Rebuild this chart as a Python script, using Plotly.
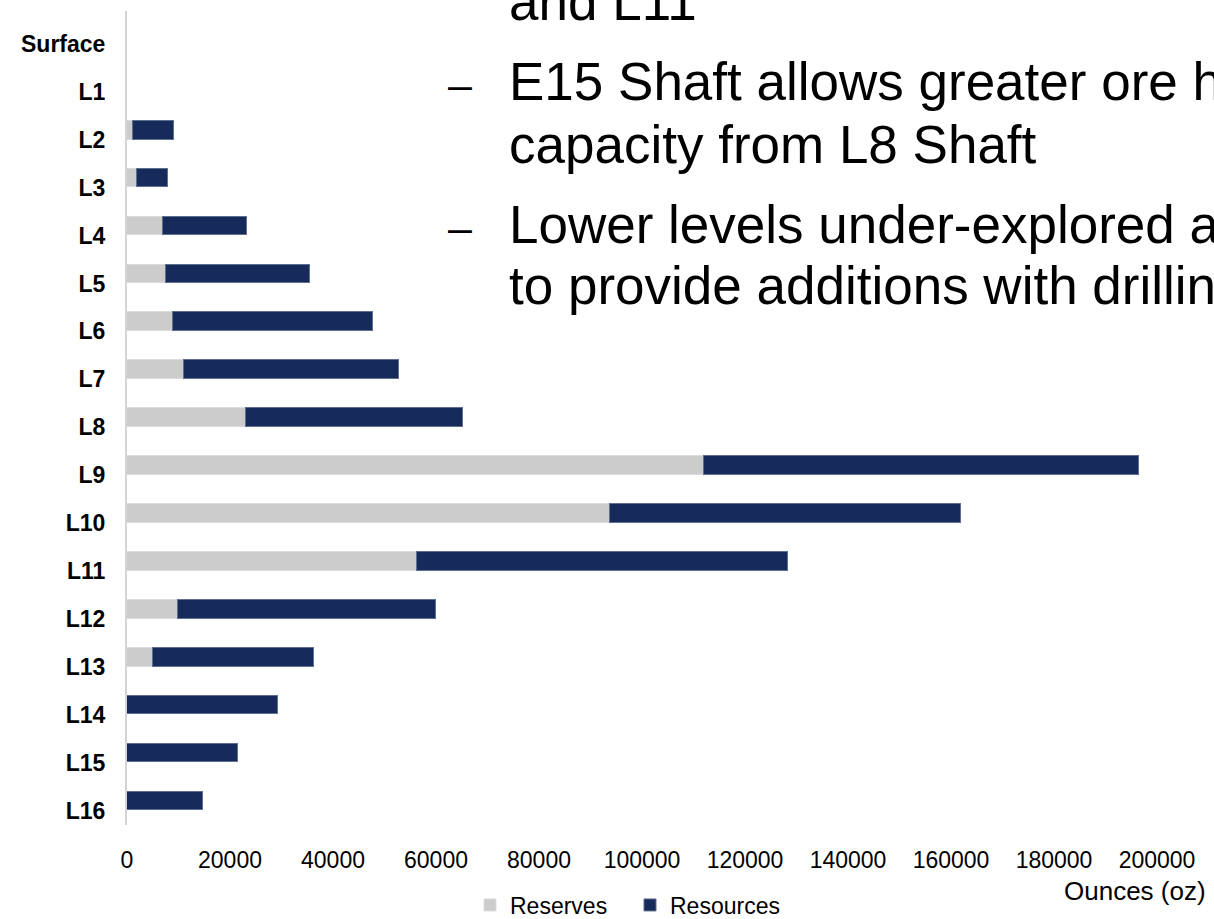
import plotly.graph_objects as go

levels = ["Surface", "L1", "L2", "L3", "L4", "L5", "L6", "L7", "L8",
          "L9", "L10", "L11", "L12", "L13", "L14", "L15", "L16"]
reserves = [0, 0, 1200, 2000, 7000, 7500, 9000, 11100, 23200,
            112000, 93700, 56300, 9900, 5100, 0, 0, 0]
resources = [0, 0, 8000, 5900, 16300, 28100, 38700, 41700, 42000,
             84500, 68300, 72100, 50100, 31300, 29300, 21600, 14800]
x_ticks = [0, 20000, 40000, 60000, 80000, 100000, 120000, 140000, 160000, 180000, 200000]

slide_lines = [
    ("and L11", 20),
    ("E15 Shaft allows greater ore h", 100),
    ("capacity from L8 Shaft", 163),
    ("Lower levels under-explored a", 243),
    ("to provide additions with drilling", 305),
]
dash_rows = [84, 228]

W, H = 1214, 919
L, R, T, B = 127, 57, 11, 92
PW, PH = W - L - R, H - T - B

def px_x(px):
    return (px - L) / PW

def px_y(py):
    return (H - B - py) / PH

FONT = "Arial, Liberation Sans, sans-serif"
GRAY = "#cccccc"
NAVY = "#172b5a"

fig = go.Figure()
fig.add_trace(go.Bar(
    y=levels, x=reserves, orientation="h", name="Reserves",
    marker=dict(color=GRAY, line=dict(color="#dcdcdc", width=1)),
    width=0.39, offset=-0.395,
))
fig.add_trace(go.Bar(
    y=levels, x=resources, orientation="h", name="Resources",
    marker=dict(color=NAVY, line=dict(color="#5f6f92", width=1)),
    width=0.39, offset=-0.395,
))

annotations = []
fs = 53
for text, base in slide_lines:
    annotations.append(dict(
        text=text, xref="paper", yref="paper",
        x=px_x(507), y=px_y(base - 0.3465 * fs),
        xanchor="left", yanchor="middle", showarrow=False,
        font=dict(family=FONT, size=fs, color="#000000"),
    ))
for yy in dash_rows:
    annotations.append(dict(
        text="\u2013", xref="paper", yref="paper",
        x=px_x(446), y=px_y(yy),
        xanchor="left", yanchor="middle", showarrow=False,
        font=dict(family=FONT, size=43, color="#000000"),
    ))
annotations.append(dict(
    text="Ounces (oz)", xref="paper", yref="paper",
    x=px_x(1208), y=px_y(893),
    xanchor="right", yanchor="middle", showarrow=False,
    font=dict(family=FONT, size=26, color="#000000"),
))

fig.update_layout(
    width=W, height=H,
    margin=dict(l=L, r=R, t=T, b=B, pad=0),
    barmode="stack",
    plot_bgcolor="white", paper_bgcolor="white",
    font=dict(family=FONT, color="#000000"),
    showlegend=True,
    legend=dict(
        orientation="h", xref="container", yref="container",
        x=470 / W, y=(H - 905) / H, xanchor="left", yanchor="middle",
        font=dict(family=FONT, size=23, color="#000000"),
        bgcolor="rgba(0,0,0,0)", itemclick=False, traceorder="normal",
        entrywidth=115, entrywidthmode="pixels",
    ),
    annotations=annotations,
    bargap=0,
)
fig.update_xaxes(
    range=[0, 200000], tickvals=x_ticks, ticktext=[str(v) for v in x_ticks],
    showgrid=False, zeroline=False, showline=False,
    ticks="outside", ticklen=14, tickcolor="rgba(0,0,0,0)",
    tickfont=dict(family=FONT, size=23, color="#000000"),
)
fig.update_yaxes(
    type="category", categoryorder="array", categoryarray=levels,
    range=[16.30, -0.687],
    showgrid=False, zeroline=False,
    showline=True, linecolor="#d4d4d4", linewidth=2,
    ticks="", ticklabelstandoff=15,
    tickfont=dict(family=FONT, size=23, color="#000000", weight="bold"),
)

fig.write_html("out.html")
